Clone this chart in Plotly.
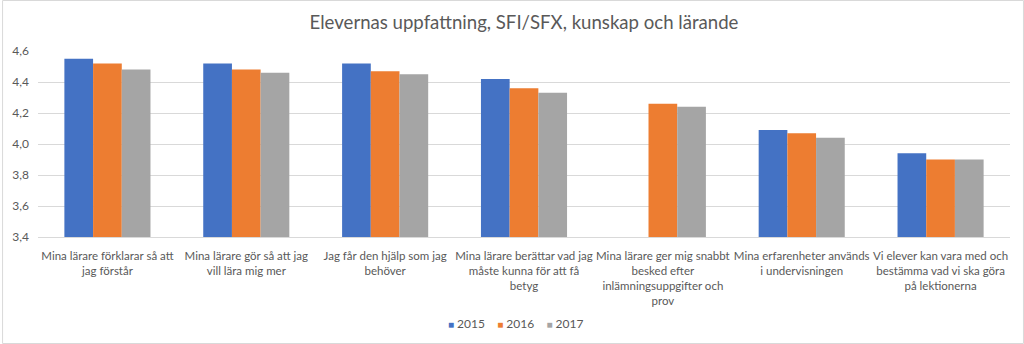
import plotly.graph_objects as go

categories = [
    "Mina lärare förklarar så att<br>jag förstår",
    "Mina lärare gör så att jag<br>vill lära mig mer",
    "Jag får den hjälp som jag<br>behöver",
    "Mina lärare berättar vad jag<br>måste kunna för att få<br>betyg",
    "Mina lärare ger mig snabbt<br>besked efter<br>inlämningsuppgifter och<br>prov",
    "Mina erfarenheter används<br>i undervisningen",
    "Vi elever kan vara med och<br>bestämma vad vi ska göra<br>på lektionerna",
]
series_names = ["2015", "2016", "2017"]
values_2015 = [4.55, 4.52, 4.52, 4.42, None, 4.09, 3.94]
values_2016 = [4.52, 4.48, 4.47, 4.36, 4.26, 4.07, 3.90]
values_2017 = [4.48, 4.46, 4.45, 4.33, 4.24, 4.04, 3.90]
colors = ["#4472C4", "#ED7D31", "#A5A5A5"]

W, H = 1024, 344
ml, mr, mt, mb = 36, 14, 51, 107
FONT = "Lato"

fig = go.Figure()
for name, vals, c in zip(series_names, [values_2015, values_2016, values_2017], colors):
    fig.add_trace(go.Bar(x=list(range(len(categories))), y=vals, name=name,
                         marker=dict(color=c, line=dict(width=0)), hoverinfo="skip",
                         showlegend=False))

pw = W - ml - mr
ph = H - mt - mb
fig.add_shape(type="rect", xref="paper", yref="paper",
              x0=(-ml + 0.5) / pw, x1=(pw + mr - 0.5) / pw,
              y0=(-mb + 0.5) / ph, y1=(ph + mt - 0.5) / ph,
              line=dict(color="#D9D9D9", width=1), layer="below")

# legend drawn as one text annotation
legend_text = "&nbsp;&nbsp;&nbsp;&nbsp;".join(
    f'<span style="color:{c};font-size:10px">■</span>&nbsp;{n}' for n, c in zip(series_names, colors))
fig.add_annotation(xref="paper", yref="paper",
                   x=(514 - ml) / pw, y=-(323 - mt - ph) / ph,
                   xanchor="center", yanchor="middle", showarrow=False,
                   text=legend_text,
                   font=dict(family=FONT, size=12, color="#595959"))

fig.update_layout(
    width=W, height=H,
    margin=dict(l=ml, r=mr, t=mt, b=mb, pad=0),
    paper_bgcolor="white", plot_bgcolor="white",
    separators=", ",
    barmode="group", bargap=0.38, bargroupgap=0,
    title=dict(text="Elevernas uppfattning, SFI/SFX, kunskap och lärande",
               x=0.5, xref="paper", xanchor="center", y=1 - 22 / H, yanchor="middle",
               font=dict(family=FONT, size=18.6, color="#595959")),
    font=dict(family=FONT, size=11.5, color="#595959"),
    xaxis=dict(tickmode="array", tickvals=list(range(len(categories))), ticktext=categories,
               range=[-0.5, len(categories) - 0.5], showgrid=False, showline=True,
               linecolor="#D9D9D9", linewidth=1, ticks="", tickangle=0,
               ticklabelstandoff=8,
               tickfont=dict(family=FONT, size=11.5, color="#595959")),
    yaxis=dict(range=[3.4, 4.6], dtick=0.2, tick0=3.4, tickformat=".1f",
               showgrid=True, gridcolor="#D9D9D9", gridwidth=1, zeroline=False,
               showline=False, ticks="", ticklabelstandoff=8,
               tickfont=dict(family=FONT, size=12, color="#595959")),
    showlegend=False,
)

fig.write_html("out.html")
